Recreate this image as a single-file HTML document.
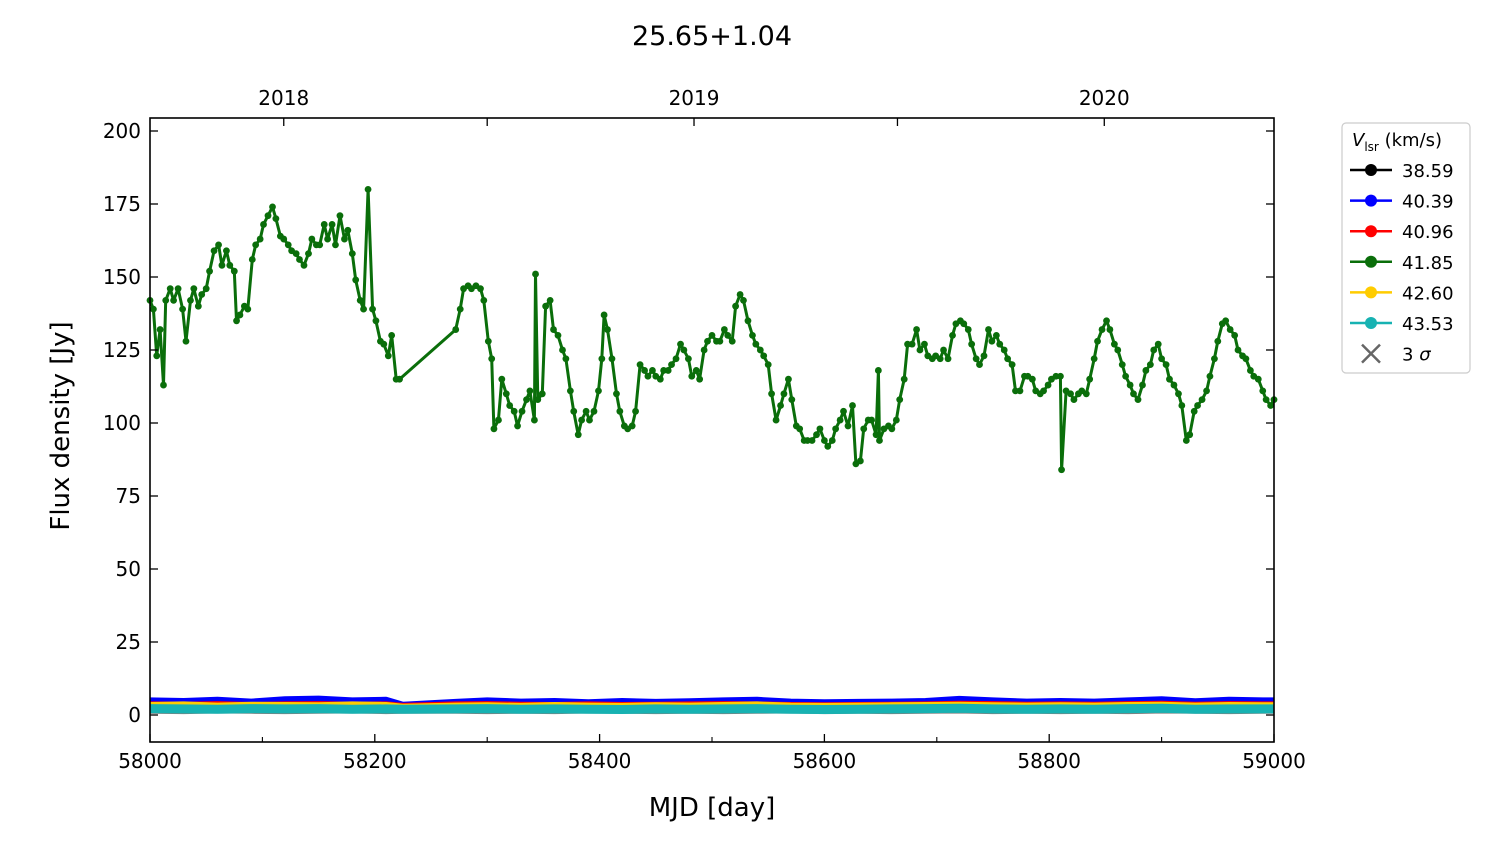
<!DOCTYPE html>
<html><head><meta charset="utf-8"><style>
body{margin:0;background:#fff;}
svg text{font-family:"DejaVu Sans","Liberation Sans",sans-serif;}
</style></head><body>
<svg id="chart" width="1500" height="844" xmlns="http://www.w3.org/2000/svg">
<text x="712" y="45" font-size="27" text-anchor="middle">25.65+1.04</text>
<g id="marks"></g>
<rect x="150" y="118" width="1124" height="624" fill="none" stroke="#000" stroke-width="1.6"/>
<g id="axes"></g>
<text x="712" y="816" font-size="26" text-anchor="middle">MJD [day]</text>
<text transform="translate(69,426) rotate(-90)" font-size="26" text-anchor="middle">Flux density [Jy]</text>
<g>
<rect x="1342" y="123" width="128" height="250" rx="4" fill="#fff" stroke="#ccc" stroke-width="1.2"/>
<text x="1352" y="146" font-size="18"><tspan font-style="italic">V</tspan><tspan font-size="12" dy="5">lsr</tspan><tspan dy="-5"> (km/s)</tspan></text>
<g id="legend-items"></g>
</g>
</svg>
<script>
const greenMjd=[58000,58003,58006,58009,58012,58014,58018,58021,58025,58029,58032,58036,58039,58043,58046,58050,58053,58057,58061,58064,58068,58071,58075,58077,58080,58084,58087,58091,58094,58098,58101,58105,58109,58112,58116,58119,58123,58126,58130,58133,58137,58141,58144,58148,58151,58155,58158,58162,58165,58169,58173,58176,58180,58183,58187,58190,58194,58198,58201,58205,58208,58212,58215,58219,58222,58272,58276,58279,58283,58286,58290,58294,58297,58301,58304,58306,58310,58313,58317,58320,58324,58327,58331,58335,58338,58342,58343,58345,58349,58352,58356,58359,58363,58367,58370,58374,58377,58381,58384,58388,58391,58395,58399,58402,58404,58407,58411,58415,58418,58422,58425,58429,58432,58436,58440,58443,58447,58450,58454,58457,58461,58464,58468,58472,58475,58479,58482,58486,58489,58493,58496,58500,58504,58507,58511,58514,58518,58521,58525,58528,58532,58536,58539,58543,58546,58550,58553,58557,58561,58564,58568,58571,58575,58578,58582,58585,58589,58593,58596,58600,58603,58607,58610,58614,58617,58621,58625,58628,58632,58635,58639,58642,58646,58648,58649,58653,58657,58660,58664,58667,58671,58674,58678,58682,58685,58689,58692,58696,58699,58703,58706,58710,58714,58717,58721,58724,58728,58731,58735,58738,58742,58746,58749,58753,58756,58760,58763,58767,58770,58774,58778,58781,58785,58788,58792,58795,58799,58802,58806,58810,58811,58815,58819,58822,58826,58829,58833,58836,58840,58843,58847,58851,58854,58858,58861,58865,58868,58872,58875,58879,58883,58886,58890,58893,58897,58900,58904,58907,58911,58915,58918,58922,58925,58929,58932,58936,58940,58943,58947,58950,58954,58957,58961,58965,58968,58972,58975,58979,58982,58986,58990,58993,58997,59000];
const greenFlux=[142,139,123,132,113,142,146,142,146,139,128,142,146,140,144,146,152,159,161,154,159,154,152,135,137,140,139,156,161,163,168,171,174,170,164,163,161,159,158,156,154,158,163,161,161,168,163,168,161,171,163,166,158,149,142,139,180,139,135,128,127,123,130,115,115,132,139,146,147,146,147,146,142,128,122,98,101,115,110,106,104,99,104,108,111,101,151,108,110,140,142,132,130,125,122,111,104,96,101,104,101,104,111,122,137,132,122,110,104,99,98,99,104,120,118,116,118,116,115,118,118,120,122,127,125,122,116,118,115,125,128,130,128,128,132,130,128,140,144,142,135,130,127,125,123,120,110,101,106,110,115,108,99,98,94,94,94,96,98,94,92,94,98,101,104,99,106,86,87,98,101,101,96,118,94,98,99,98,101,108,115,127,127,132,125,127,123,122,123,122,125,122,130,134,135,134,132,127,122,120,123,132,128,130,127,125,122,120,111,111,116,116,115,111,110,111,113,115,116,116,84,111,110,108,110,111,110,115,122,128,132,135,132,127,125,120,116,113,110,108,113,118,120,125,127,122,120,115,113,110,106,94,96,104,106,108,111,116,122,128,134,135,132,130,125,123,122,118,116,115,111,108,106,108];
const lowMjd=[58000,58030,58060,58090,58120,58150,58180,58210,58225,58272,58300,58330,58360,58390,58420,58450,58480,58510,58540,58570,58600,58630,58660,58690,58720,58750,58780,58810,58840,58870,58900,58930,58960,58990,59000];
const blueFlux=[5,4.8,5.2,4.6,5.4,5.6,5,5.2,3.5,4.5,5,4.6,4.8,4.4,4.8,4.5,4.7,5,5.2,4.6,4.4,4.5,4.6,4.8,5.5,5,4.6,4.8,4.6,5,5.4,4.7,5.2,5,5];
const redFlux=[3.8,3.7,3.9,3.6,3.8,3.9,3.7,3.8,3.3,3.8,3.9,3.7,3.6,3.8,3.6,3.7,3.8,3.9,3.8,3.6,3.5,3.6,3.7,3.8,4,3.9,3.7,3.8,3.7,3.9,4,3.7,3.9,3.8,3.8];
const yellowFlux=[3.6,3.8,3.4,3.7,3.6,3.5,3.8,3.6,3,3.4,3.5,3.3,3.6,3.4,3.3,3.5,3.4,3.6,3.8,3.4,3.3,3.4,3.5,3.6,3.7,3.5,3.4,3.5,3.4,3.6,3.7,3.4,3.6,3.5,3.5];
const cyanFlux=[2.2,2.1,2,2.2,2.1,2.2,2,2.1,2,2.1,2.2,2,2.1,2,1.9,2.1,2,2.1,2.2,2,1.9,2,2.1,2.2,2.3,2.1,2,2.1,2,2.2,2.3,2,2.1,2.1,2.1];
const blackFlux=[2,2,2.1,2,2,2.1,2,2,2,2,2.1,2,2,2,1.9,2,2,2.1,2,2,1.9,2,2,2.1,2.1,2,2,2,2,2.1,2.1,2,2,2,2];
const sigmaFlux=[1.1,1,1.2,1.1,1,1.1,1.2,1,1.1,1.1,1,1.1,1,1.2,1.1,1,1.1,1,1.1,1.2,1,1.1,1,1.1,1.2,1,1.1,1,1.1,1,1.2,1.1,1,1.1,1.1];
const yTicks=[0,25,50,75,100,125,150,175,200];
const xTicks=[58000,58200,58400,58600,58800,59000];
const xMinor=[58100,58300,58500,58700,58900];
const yearMjd=[58119,58484,58849];
const yearLabels=["2018","2019","2020"];
const halfYearMjd=[58300,58665];
const legendLabels=["38.59","40.39","40.96","41.85","42.60","43.53"];
const legendColors=["#000000","#0000ff","#ff0000","#0a6e0a","#ffcc00","#17b2b2"];

const NS="http://www.w3.org/2000/svg";
const X=m=>150+(m-58000)*1.124;
const Y=v=>715-v*2.92;
function el(tag,attrs,parent){const e=document.createElementNS(NS,tag);for(const k in attrs)e.setAttribute(k,attrs[k]);parent.appendChild(e);return e;}
const marks=document.getElementById('marks');
const axes=document.getElementById('axes');

function series(mjd,vals,color,name,lw,r,markers){
  const g=el('g',{},marks);
  
  
  const pts=mjd.map((m,i)=>X(m).toFixed(1)+','+Y(vals[i]).toFixed(1)).join(' ');
  el('polyline',{points:pts,fill:'none',stroke:color,'stroke-width':lw,'stroke-linejoin':'round'},g);
  if(markers){mjd.forEach((m,i)=>{const c=el('circle',{cx:X(m),cy:Y(vals[i]),r:r,fill:color},g);
    
    });}
}
series(lowMjd,sigmaFlux,'#808080','sigma-series',4,0,false);
series(lowMjd,blackFlux,'#000000','series-38-59',3,0,false);
series(lowMjd,blueFlux,'#0000ff','series-40-39',6,0,false);
series(lowMjd,redFlux,'#ff0000','series-40-96',5,0,false);
series(lowMjd,yellowFlux,'#ffcc00','series-42-60',5,0,false);
series(lowMjd,cyanFlux,'#17b2b2','series-43-53',9,0,false);
series(greenMjd,greenFlux,'#0a6e0a','series-41-85',3,3.4,true);

yTicks.forEach(v=>{
  el('line',{x1:150,x2:158,y1:Y(v),y2:Y(v),stroke:'#000','stroke-width':1.3},axes);
  el('line',{x1:1266,x2:1274,y1:Y(v),y2:Y(v),stroke:'#000','stroke-width':1.3},axes);
  const t=el('text',{x:141,y:Y(v)+7,'font-size':20,'text-anchor':'end'},axes);t.textContent=v;
  
  
});
xTicks.forEach(m=>{
  el('line',{x1:X(m),x2:X(m),y1:742,y2:734,stroke:'#000','stroke-width':1.3},axes);
  const t=el('text',{x:X(m),y:768,'font-size':20,'text-anchor':'middle'},axes);t.textContent=m;
  
  
});
xMinor.forEach(m=>{el('line',{x1:X(m),x2:X(m),y1:742,y2:737,stroke:'#000','stroke-width':1.1},axes);});
yearMjd.forEach((m,i)=>{
  el('line',{x1:X(m),x2:X(m),y1:118,y2:126,stroke:'#000','stroke-width':1.3},axes);
  const t=el('text',{x:X(m),y:105,'font-size':20,'text-anchor':'middle'},axes);t.textContent=yearLabels[i];
  
  
});
halfYearMjd.forEach(m=>{el('line',{x1:X(m),x2:X(m),y1:118,y2:126,stroke:'#000','stroke-width':1.3},axes);});

const li=document.getElementById('legend-items');
legendLabels.forEach((lab,i)=>{
  const y=170+i*30.6;
  const g=el('g',{},li);
  
  
  el('line',{x1:1350,x2:1392,y1:y,y2:y,stroke:legendColors[i],'stroke-width':2.5},g);
  el('circle',{cx:1371,cy:y,r:6,fill:legendColors[i]},g);
  const t=el('text',{x:1402,y:y+7,'font-size':18},g);t.textContent=lab;
});
const g=el('g',{},li);


const ys=170+6*30.6;
el('path',{d:`M1362 ${ys-9}L1380 ${ys+9}M1362 ${ys+9}L1380 ${ys-9}`,stroke:'#666','stroke-width':2.5},g);
const t=el('text',{x:1402,y:ys+7,'font-size':18},g);t.innerHTML='3 <tspan font-style="italic">σ</tspan>';
</script>
</body></html>
